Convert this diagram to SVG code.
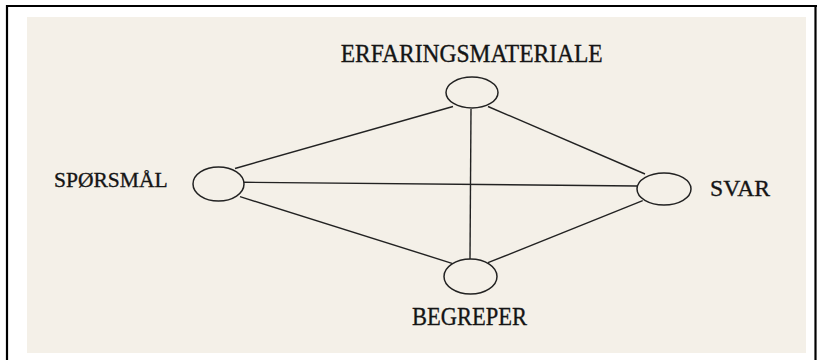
<svg xmlns="http://www.w3.org/2000/svg" width="817" height="360" viewBox="0 0 817 360">
<style>
.node ellipse{fill:none;stroke:#222;stroke-width:1.5}
.edges line{stroke:#222;stroke-width:1.4}
text{font-family:"Liberation Serif","Times New Roman",serif;fill:#151515;stroke:#151515;stroke-width:0.35}
</style>
<rect x="0" y="0" width="817" height="360" fill="#ffffff"/>
<rect x="27" y="17" width="779" height="336" fill="#f4f0e8"/>
<g id="frame" stroke="#000" stroke-width="2.2" fill="none">
<line x1="7" y1="6" x2="817" y2="6"/>
<line x1="7" y1="5" x2="7" y2="360"/>
<line x1="815.5" y1="5" x2="815.5" y2="360"/>
</g>
<g class="edges" id="connectors">
<line x1="453" y1="106.5" x2="235" y2="168.5"/>
<line x1="488" y1="106.5" x2="645" y2="174"/>
<line x1="471" y1="109" x2="470" y2="259"/>
<line x1="244" y1="182.3" x2="637" y2="186"/>
<line x1="240" y1="196.7" x2="452" y2="263.3"/>
<line x1="642.7" y1="200.7" x2="488" y2="262.7"/>
</g>
<g class="node" id="erfaringsmateriale">
<ellipse cx="472" cy="92.5" rx="26" ry="15.5"/>
<text x="340.7" y="61.7" font-size="25" textLength="262" lengthAdjust="spacingAndGlyphs">ERFARINGSMATERIALE</text>
</g>
<g class="node" id="sporsmal">
<ellipse cx="218.5" cy="184" rx="25.5" ry="17"/>
<text x="54" y="186.7" font-size="22" textLength="113.7" lengthAdjust="spacingAndGlyphs">SPØRSMÅL</text>
</g>
<g class="node" id="svar">
<ellipse cx="664" cy="189" rx="27" ry="16"/>
<text x="710" y="196" font-size="23" textLength="60" lengthAdjust="spacingAndGlyphs">SVAR</text>
</g>
<g class="node" id="begreper">
<ellipse cx="470.5" cy="276.5" rx="26.5" ry="17.5"/>
<text x="412" y="325" font-size="25" textLength="115" lengthAdjust="spacingAndGlyphs">BEGREPER</text>
</g>
</svg>
